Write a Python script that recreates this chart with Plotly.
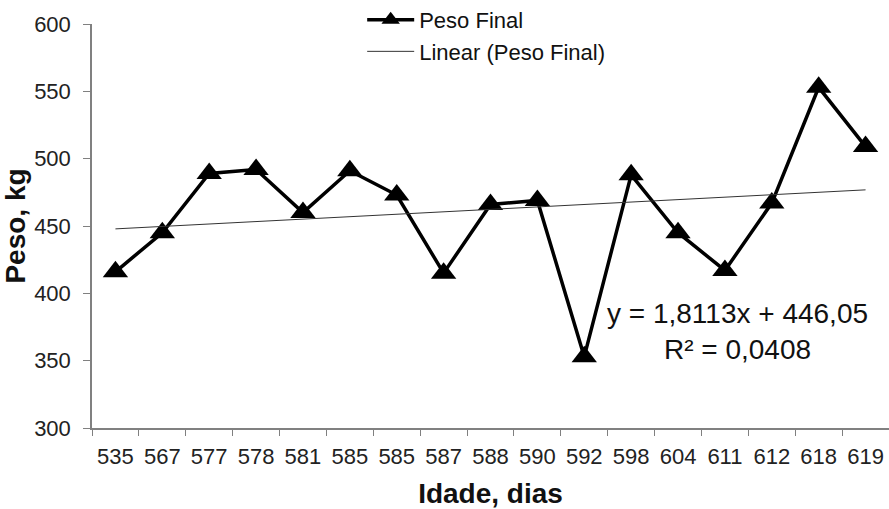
import plotly.graph_objects as go

idade = ["535", "567", "577", "578", "581", "585", "585", "587", "588",
         "590", "592", "598", "604", "611", "612", "618", "619"]
peso = [416, 445, 489, 492, 460, 491, 473, 415, 466, 469, 353, 488, 445, 417, 467, 553, 509]
slope = 1.8113
intercept = 446.05
r2 = 0.0408

# unique category keys (duplicate labels kept distinct with zero-width spaces)
keys = []
seen = {}
for lab in idade:
    n = seen.get(lab, 0)
    keys.append(lab + "\u200b" * n)
    seen[lab] = n + 1

trend = [slope * (i + 1) + intercept for i in range(len(idade))]

FONT = "Liberation Sans, Arial"

fig = go.Figure()
fig.add_trace(go.Scatter(
    x=keys, y=peso, mode="lines+markers", name="Peso Final",
    line=dict(color="black", width=3.5),
    marker=dict(symbol="triangle-up", size=22, color="black"),
    cliponaxis=False,
))
fig.add_trace(go.Scatter(
    x=[keys[0], keys[-1]], y=[trend[0], trend[-1]], mode="lines",
    name="Linear (Peso Final)",
    line=dict(color="#333333", width=1),
))

fig.add_annotation(
    x=0.81, y=0.238, xref="paper", yref="paper",
    xanchor="center", yanchor="middle",
    text=f"y = {str(slope).replace('.', ',')}x + {str(intercept).replace('.', ',')}<br>R² = {str(r2).replace('.', ',')}",
    showarrow=False, align="center",
    font=dict(family=FONT, size=28, color="#111"),
)

fig.update_layout(
    width=889, height=509,
    margin=dict(l=92, r=0, t=24, b=81, autoexpand=False),
    paper_bgcolor="white", plot_bgcolor="white",
    font=dict(family=FONT, color="#222"),
    showlegend=True,
    legend=dict(x=0.339, y=1.062, xanchor="left", yanchor="top",
                font=dict(size=22, color="#111"), bgcolor="rgba(0,0,0,0)",
                tracegroupgap=0, itemwidth=47),
    xaxis=dict(
        type="category", categoryorder="array", categoryarray=keys,
        range=[-0.5, len(keys) - 0.5],
        tickmode="array", tickvals=keys, ticktext=idade,
        tickson="boundaries", ticks="outside", ticklen=6, tickcolor="#808080",
        ticklabelstandoff=8,
        showline=True, linecolor="#808080", linewidth=1.5,
        showgrid=False, tickfont=dict(size=22, color="#222"),
        title=dict(text="<b>Idade, dias</b>", font=dict(size=28, color="#111"), standoff=16),
    ),
    yaxis=dict(
        range=[300, 600], dtick=50, ticks="outside", ticklen=7, tickcolor="#808080",
        ticklabelstandoff=8,
        showline=True, linecolor="#808080", linewidth=1.5,
        showgrid=False, zeroline=False, tickfont=dict(size=22, color="#222"),
        title=dict(text="<b>Peso, kg</b>", font=dict(size=28, color="#111"), standoff=0),
    ),
)

fig.write_html("out.html")
